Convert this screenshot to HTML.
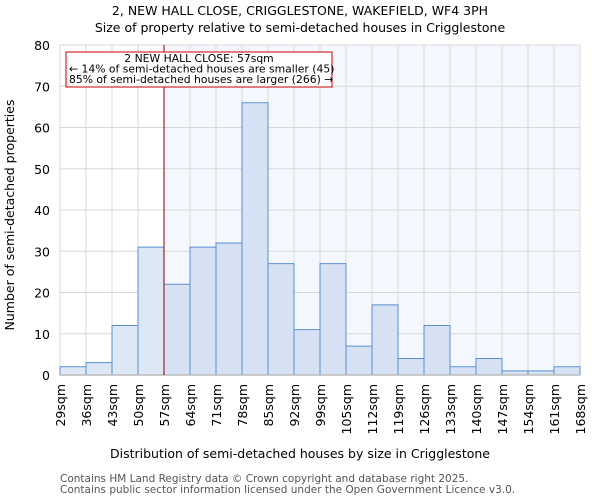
<!DOCTYPE html>
<html><head><meta charset="utf-8"><style>
body{margin:0;background:#fff;font-family:"DejaVu Sans","Liberation Sans",sans-serif}
</style></head><body>
<svg id="c" width="600" height="500" xmlns="http://www.w3.org/2000/svg" font-family="DejaVu Sans, Liberation Sans, sans-serif">
<text x="300" y="15" text-anchor="middle" font-size="12.5">2, NEW HALL CLOSE, CRIGGLESTONE, WAKEFIELD, WF4 3PH</text>
<text x="300" y="32" text-anchor="middle" font-size="12.5">Size of property relative to semi-detached houses in Crigglestone</text>
<g id="plot"></g>
<text x="300" y="458" text-anchor="middle" font-size="12.5">Distribution of semi-detached houses by size in Crigglestone</text>
<text transform="translate(14,215) rotate(-90)" text-anchor="middle" font-size="12.5">Number of semi-detached properties</text>
<text x="60" y="482" font-size="10.5" fill="#555">Contains HM Land Registry data © Crown copyright and database right 2025.</text>
<text x="60" y="493" font-size="10.5" fill="#555">Contains public sector information licensed under the Open Government Licence v3.0.</text>
</svg>
<script>
const tickLabels=["29sqm","36sqm","43sqm","50sqm","57sqm","64sqm","71sqm","78sqm","85sqm","92sqm","99sqm","105sqm","112sqm","119sqm","126sqm","133sqm","140sqm","147sqm","154sqm","161sqm","168sqm"];
const counts=[2,3,12,31,22,31,32,66,27,11,27,7,17,4,12,2,4,1,1,2];
const yTicks=[0,10,20,30,40,50,60,70,80];
const markerIndex=4;
const X0=60,X1=580,Y0=375,Y1=45,YMAX=80;
const ns="http://www.w3.org/2000/svg";
const g=document.getElementById("plot");
const bw=(X1-X0)/counts.length;
const xs=i=>X0+i*bw;
const ys=v=>Y0-(v/YMAX)*(Y0-Y1);
function mk(t,a){const e=document.createElementNS(ns,t);for(const k in a)e.setAttribute(k,a[k]);g.appendChild(e);return e;}
let r=mk("rect",{x:xs(markerIndex),y:Y1,width:X1-xs(markerIndex),height:Y0-Y1,fill:"#f4f7fd"});


yTicks.forEach(v=>{
 const l=mk("line",{x1:X0,x2:X1,y1:ys(v),y2:ys(v),stroke:"#d8d8d8","stroke-width":1});
 
 
 const t=mk("text",{x:X0-10,y:ys(v)+5,"text-anchor":"end","font-size":"12.5"});
 t.textContent=v;
 
 
});
tickLabels.forEach((s,i)=>{
 const l=mk("line",{x1:xs(i),x2:xs(i),y1:Y1,y2:Y0,stroke:"#d8d8d8","stroke-width":1});
 
 
 const t=mk("text",{transform:`translate(${xs(i)+5},384) rotate(-90)`,"text-anchor":"end","font-size":"12.5"});
 t.textContent=s;
 
 
});
counts.forEach((v,i)=>{
 const b=mk("rect",{x:xs(i),y:ys(v),width:bw,height:Y0-ys(v),fill:i<markerIndex?"#dde7f5":"#d6e2f4",stroke:"#5a8fd4","stroke-width":1});
 
 
});
let ax=mk("line",{x1:X0,x2:X1,y1:Y0,y2:Y0,stroke:"#bbb","stroke-width":1.5});


let m=mk("line",{x1:xs(markerIndex),x2:xs(markerIndex),y1:Y1,y2:Y0,stroke:"#880000","stroke-width":1});


let box=mk("rect",{x:66,y:52,width:266,height:35,fill:"#fff",stroke:"#cc0000","stroke-width":1});


["2 NEW HALL CLOSE: 57sqm","← 14% of semi-detached houses are smaller (45)","85% of semi-detached houses are larger (266) →"].forEach((s,i)=>{
 const t=mk("text",{x:i==0?199:69,y:62+i*10.5,"text-anchor":i==0?"middle":"start","font-size":"10.8"});
 t.textContent=s;
 
 
});
</script>
</body></html>
